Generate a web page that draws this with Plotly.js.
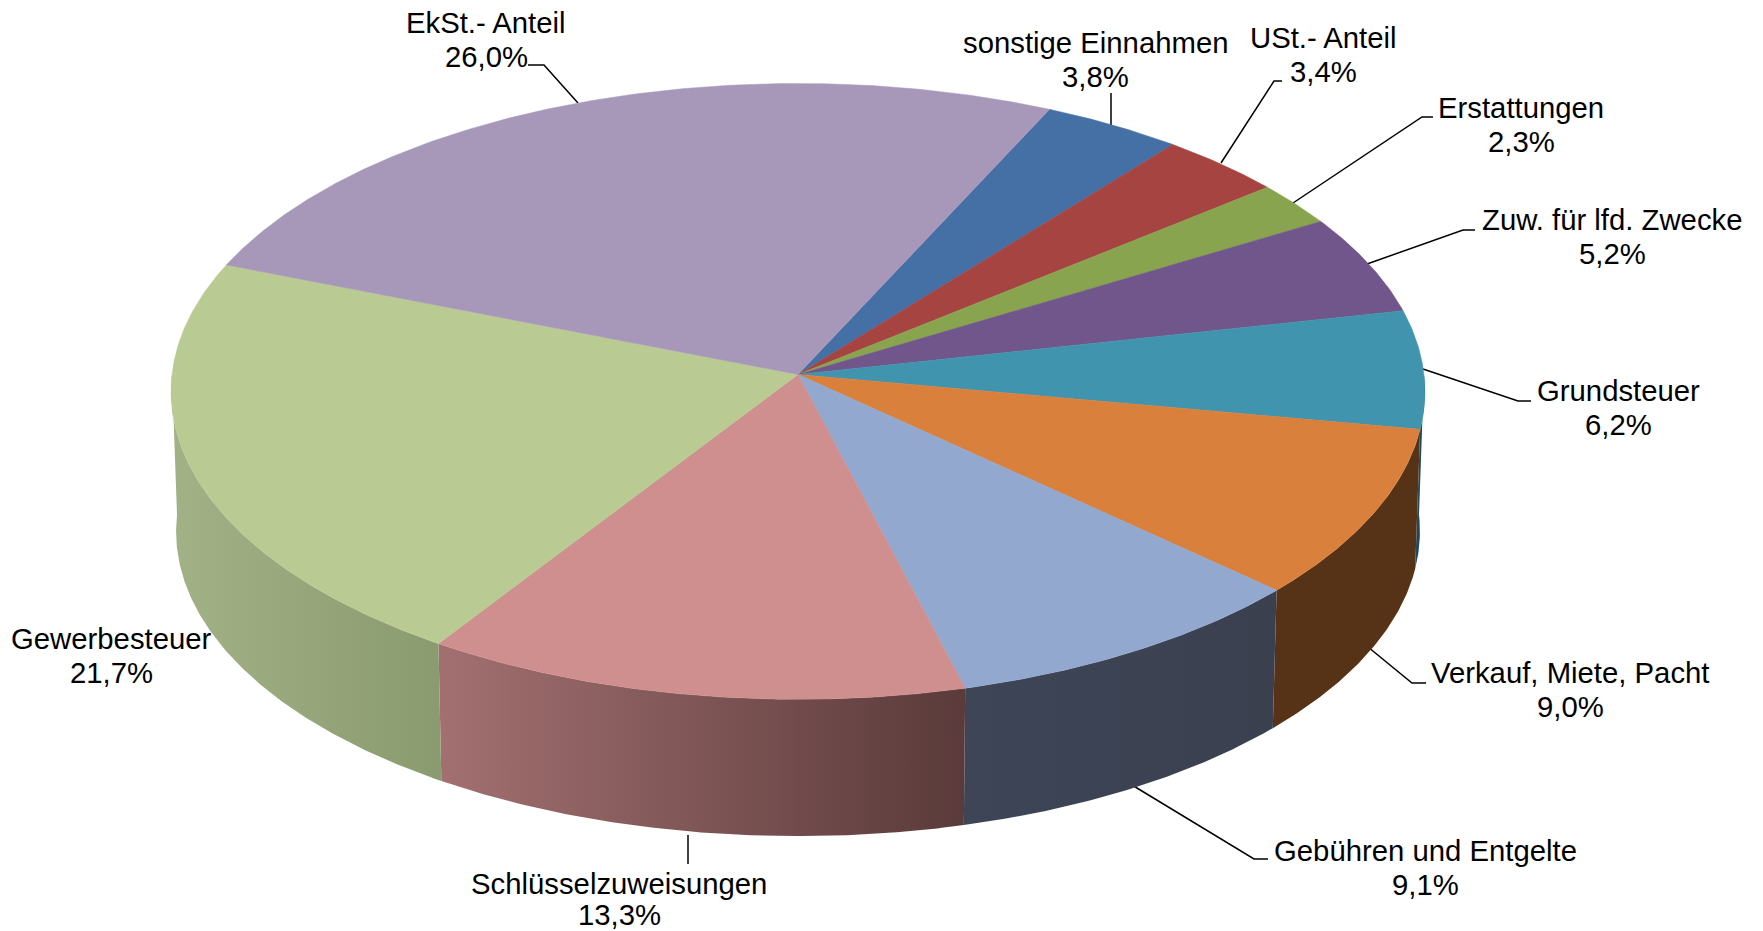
<!DOCTYPE html>
<html>
<head>
<meta charset="utf-8">
<script src="https://cdn.plot.ly/plotly-3.0.1.min.js"></script>
<style>html,body{margin:0;padding:0;background:#fff;overflow:hidden}</style>
</head>
<body>
<div id="chart" style="width:1763px;height:931px"></div>
<script>
// Data, clockwise from the first slice
const categories = ["sonstige Einnahmen","USt.- Anteil","Erstattungen","Zuw. für lfd. Zwecke","Grundsteuer","Verkauf, Miete, Pacht","Gebühren und Entgelte","Schlüsselzuweisungen","Gewerbesteuer","EkSt.- Anteil"];
const shares = [3.8,3.4,2.3,5.2,6.2,9.0,9.1,13.3,21.7,26.0];
const percentText = ["3,8%","3,4%","2,3%","5,2%","6,2%","9,0%","9,1%","13,3%","21,7%","26,0%"];

// Styles
const topColors = ["#4570A6","#A64442","#88A44E","#71568B","#4094AD","#D8803C","#93A8CE","#CE8F8E","#B9CB93","#A798BA"];
const wallLeft  = ["#2A4366","#642826","#526230","#443354","#1F4B59","#563316","#3D4557","#A37071","#A3B186","#655C70"];
const wallRight = ["#2A4366","#642826","#526230","#443354","#1F4B59","#563316","#3B404F","#5A3A3A","#8A9B6F","#655C70"];

// Layout of labels and leader lines (page pixels)
const labelX = [1095,1323,1521,1612,1618,1570,1425,619,111,486];
const labelY = [59,54,124,236,407,689,867,900,655,39];
const labelGap = 17;
const lowestLabelY = 914;
const leaderX = [[1111,1111],[1282,1274,1221],[1433,1422,1293],[1475,1463,1367],[1531,1518,1423],[1426,1412,1368],[1268,1254,1132],[688,688],[],[528,544,578]];
const leaderY = [[93,125],[81,81,163],[117,117,203],[230,230,264],[401,401,369],[683,683,647],[859,859,785],[835,864],[],[65,65,103]];

// Projection of the tilted disc
const disc = {cx:798, cy:374.5, a:626, b:307, k:0.0548, startDeg:24.95, wallDy:140, lowA:621, lowB:304};
const rad = d => d*Math.PI/180;
function topPt(deg){
  const X=Math.sin(rad(deg)), Y=Math.cos(rad(deg)), w=1+disc.k*Y;
  return [disc.cx+disc.a*X/w, disc.cy-disc.b*Y/w];
}
function lowPt(deg){
  const X=Math.sin(rad(deg)), Y=Math.cos(rad(deg)), w=1+disc.k*Y;
  return [disc.cx+disc.lowA*X/w, disc.cy+disc.wallDy-disc.lowB*Y/w];
}
function arc(fn,d0,d1){
  const n=Math.max(2,Math.ceil((d1-d0)/0.4)), out=[];
  for(let i=0;i<=n;i++) out.push(fn(d0+(d1-d0)*i/n));
  return out;
}

let acc=disc.startDeg;
const spans=shares.map(v=>{const s=[acc,acc+v*3.6]; acc=s[1]; return s;});
const traces=[];

// leader lines under the pie
leaderX.forEach((lx,i)=>{
  if(lx.length) traces.push({type:'scatter',mode:'lines',x:lx,y:leaderY[i],line:{color:'#000',width:1.5},hoverinfo:'skip'});
});

// side wall: only the part on the front half of the disc is drawn
spans.forEach((s,i)=>{
  const d0=Math.max(s[0],90), d1=Math.min(s[1],270);
  if(d1<=d0) return;
  const t=arc(topPt,d0,d1), l=arc(lowPt,d0,d1).reverse(), pts=t.concat(l);
  pts.push(pts[0]);
  const xs=pts.map(p=>p[0]), mn=Math.min(...xs), mx=Math.max(...xs);
  traces.push({type:'scatter',mode:'lines',x:xs,y:pts.map(p=>p[1]),fill:'toself',
    line:{width:0,color:wallRight[i]},hoverinfo:'skip',
    fillgradient:{type:'horizontal',start:mn,stop:mx,colorscale:[[0,wallLeft[i]],[1,wallRight[i]]]}});
});

// upper face
spans.forEach((s,i)=>{
  const pts=[[disc.cx,disc.cy]].concat(arc(topPt,s[0],s[1]));
  pts.push(pts[0]);
  traces.push({type:'scatter',mode:'lines',x:pts.map(p=>p[0]),y:pts.map(p=>p[1]),fill:'toself',
    fillcolor:topColors[i],line:{width:0.5,color:topColors[i]},
    name:categories[i],text:categories[i]+' '+percentText[i],hoverinfo:'text'});
});

const labelFont={family:'"Liberation Sans",Arial,sans-serif',size:29.3,color:'#000'};
const annotations=[];
categories.forEach((c,i)=>{
  annotations.push({xref:'x',yref:'y',x:labelX[i],y:labelY[i]-labelGap,text:c,showarrow:false,
    xanchor:'center',yanchor:'middle',font:labelFont});
  annotations.push({xref:'x',yref:'y',x:labelX[i],y:Math.min(labelY[i]+labelGap,lowestLabelY),text:percentText[i],showarrow:false,
    xanchor:'center',yanchor:'middle',font:labelFont});
});

Plotly.newPlot('chart',traces,{
  width:1763,height:931,margin:{l:0,r:0,t:0,b:0},showlegend:false,
  paper_bgcolor:'#fff',plot_bgcolor:'#fff',
  xaxis:{range:[0,1763],visible:false,fixedrange:true},
  yaxis:{range:[931,0],visible:false,fixedrange:true},
  annotations
},{displayModeBar:false});
</script>
</body>
</html>
